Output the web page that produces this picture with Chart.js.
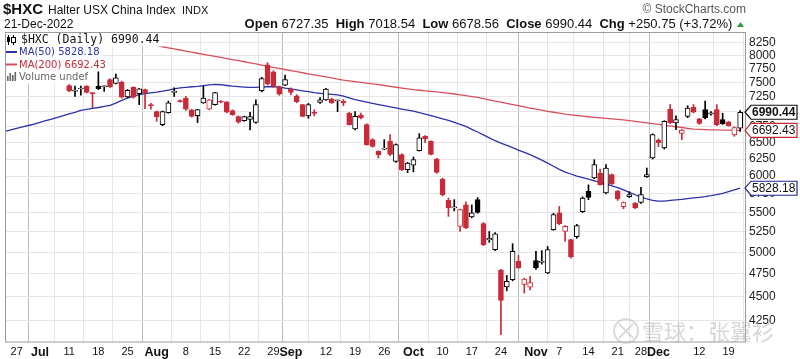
<!DOCTYPE html>
<html>
<head>
<meta charset="utf-8">
<script src="https://cdn.jsdelivr.net/npm/chart.js@4.4.0/dist/chart.umd.min.js"></script>
<style>
  html, body { margin: 0; padding: 0; background: #fff; }
  #wrap { position: relative; width: 800px; height: 359px; }
</style>
</head>
<body>
<div id="wrap"><canvas id="hxcChart" width="800" height="359"></canvas></div>
<script>
// ========== DATA ==========
const dates = [
  'Jun 23','Jun 24','Jun 27','Jun 28','Jun 29','Jun 30',
  'Jul 1','Jul 5','Jul 6','Jul 7','Jul 8','Jul 11','Jul 12','Jul 13','Jul 14','Jul 15',
  'Jul 18','Jul 19','Jul 20','Jul 21','Jul 22','Jul 25','Jul 26','Jul 27','Jul 28','Jul 29',
  'Aug 1','Aug 2','Aug 3','Aug 4','Aug 5','Aug 8','Aug 9','Aug 10','Aug 11','Aug 12',
  'Aug 15','Aug 16','Aug 17','Aug 18','Aug 19','Aug 22','Aug 23','Aug 24','Aug 25','Aug 26',
  'Aug 29','Aug 30','Aug 31','Sep 1','Sep 2','Sep 6','Sep 7','Sep 8','Sep 9',
  'Sep 12','Sep 13','Sep 14','Sep 15','Sep 16','Sep 19','Sep 20','Sep 21','Sep 22','Sep 23',
  'Sep 26','Sep 27','Sep 28','Sep 29','Sep 30','Oct 3','Oct 4','Oct 5','Oct 6','Oct 7',
  'Oct 10','Oct 11','Oct 12','Oct 13','Oct 14','Oct 17','Oct 18','Oct 19','Oct 20','Oct 21',
  'Oct 24','Oct 25','Oct 26','Oct 27','Oct 28','Oct 31','Nov 1','Nov 2','Nov 3','Nov 4',
  'Nov 7','Nov 8','Nov 9','Nov 10','Nov 11','Nov 14','Nov 15','Nov 16','Nov 17','Nov 18',
  'Nov 21','Nov 22','Nov 23','Nov 25','Nov 28','Nov 29','Nov 30','Dec 1','Dec 2',
  'Dec 5','Dec 6','Dec 7','Dec 8','Dec 9','Dec 12','Dec 13','Dec 14','Dec 15','Dec 16',
  'Dec 19','Dec 20','Dec 21'
];

const opens = [
  7650,7750,7850,7800,7700,7680,7720,7800,7830,7700,7700,
  7450,7350,7390,7440,7322,7440,7430,7557,7490,7515,
  7250,7418,7310,7380,7120,7000,6786,6985,7330,7190,
  7230,7030,6935,7150,7040,7118,7180,7166,7020,6920,
  6850,6870,6823,7360,7830,7700,7430,7460,7390,7270,
  7118,6930,6990,7155,7200,7215,7185,7180,6973,
  6715,6940,6786,6546,6365,6400,6520,6215,6316,6093,
  6160,6377,6600,6520,6250,5958,5661,5560,5320,5600,
  5441,5671,5355,5150,5031,4789,4602,4683,4892,4630,4600,
  4903,4880,4759,5278,5494,5257,5153,5190,5510,
  5785,5973,6045,5763,6020,5785,5575,5710,5620,
  5632,5990,6266,6540,6418,7045,6813,6645,6922,7075,
  6880,7033,6960,7033,6870,6830,6620,6727.35
];
const highs = [
  7720,7850,7900,7880,7760,7760,7800,7900,7860,7800,7740,
  7470,7440,7440,7450,7325,7700,7445,7570,7660,7530,
  7380,7430,7400,7390,7140,7010,7010,7180,7412,7200,
  7260,7035,7040,7440,7210,7330,7190,7170,7030,6930,
  6925,6990,7200,7600,7870,7720,7440,7640,7410,7290,
  7125,7140,7030,7240,7400,7230,7195,7205,6990,
  7003,6975,6800,6560,6375,6546,6625,6480,6330,6200,
  6280,6640,6610,6530,6260,5970,5692,5671,5545,5640,
  5600,5700,5370,5255,5240,4800,4730,5104,4962,4700,4720,
  5011,5020,5070,5490,5580,5330,5160,5345,5710,
  5875,6240,6100,6166,6030,5800,5640,5780,5630,
  5840,6117,6640,6560,6850,7118,6930,6710,7100,7120,
  6890,7180,7000,7118,6973,6840,6750,7018.54
];
const lows = [
  7600,7720,7760,7700,7620,7640,7680,7720,7700,7660,7580,
  7340,7260,7280,7320,7067,7380,7348,7420,7480,7230,
  7240,7230,7118,7050,7040,6840,6770,6975,7258,7160,
  7020,6910,6820,7140,7030,7110,7150,6980,6940,6810,
  6840,6700,6810,7340,7460,7420,7280,7450,7290,7150,
  6915,6890,6930,7140,7190,7140,7000,7100,6780,
  6700,6880,6460,6430,6265,6390,6300,6200,6080,6050,
  6060,6370,6500,6310,6040,5720,5449,5520,5257,5290,
  5430,5490,5080,5120,5020,4106,4560,4670,4810,4535,4570,
  4800,4860,4750,5270,5340,5133,4930,5170,5500,
  5670,5960,5870,5750,5880,5660,5550,5700,5550,
  5620,5980,6250,6440,6400,6800,6706,6546,6900,6980,
  6790,6880,6940,6770,6790,6760,6600,6678.56
];
const closes = [
  7700,7830,7790,7720,7650,7700,7760,7850,7730,7780,7620,
  7355,7365,7400,7330,7310,7395,7440,7430,7590,7245,
  7366,7245,7395,7320,7100,6917,7003,7150,7345,7170,
  7040,6920,7035,7233,7200,7325,7160,6990,6950,6825,
  6917,6920,7118,7575,7480,7440,7300,7560,7330,7170,
  6922,7120,6970,7200,7390,7150,7190,7150,6786,
  6922,6900,6470,6440,6316,6405,6320,6468,6093,6190,
  6240,6574,6560,6320,6053,5740,5560,5570,5537,5300,
  5494,5500,5092,5170,5225,4457,4664,5011,4815,4690,4650,
  4815,4890,5031,5471,5355,5320,4944,5330,5692,
  5700,6166,5878,6117,5890,5683,5630,5740,5560,
  5740,6020,6625,6500,6839,6813,6870,6700,7060,6990,
  6805,6895,6980,6786,6800,6770,6739.69,6990.44
];

const ma50 = [
  6678,6700,6725,6748,6772,6796,6823,6850,6878,6905,6932,
  6962,6990,7020,7040,7055,7070,7088,7107,7145,7190,
  7230,7262,7292,7308,7322,7335,7352,7372,7392,7410,
  7420,7430,7438,7450,7462,7472,7466,7452,7440,7432,
  7424,7418,7420,7426,7430,7430,7426,7405,7392,7375,
  7358,7342,7325,7314,7305,7296,7287,7265,7236,
  7206,7185,7162,7140,7120,7102,7082,7062,7043,7025,
  7008,6985,6960,6935,6910,6880,6855,6822,6790,6758,
  6710,6668,6622,6575,6530,6494,6458,6422,6386,6351,6316,
  6275,6234,6190,6143,6098,6058,6030,6000,5978,
  5955,5932,5910,5888,5862,5838,5805,5770,5738,
  5708,5680,5660,5650,5652,5660,5668,5676,5685,5694,
  5702,5712,5725,5740,5758,5780,5805,5828.18
];
const ma200 = [
  8720,8700,8680,8660,8640,8620,8600,8580,8560,8540,8520,
  8500,8480,8460,8440,8420,8400,8380,8360,8340,8320,
  8300,8280,8258,8238,8218,8197,8176,8155,8134,8113,
  8092,8071,8050,8030,8010,7990,7970,7948,7928,7908,
  7888,7868,7848,7825,7803,7783,7763,7743,7723,7702,
  7683,7664,7645,7626,7607,7588,7568,7550,7536,
  7522,7508,7494,7481,7468,7452,7436,7421,7406,7392,
  7378,7368,7358,7348,7338,7328,7316,7302,7288,7274,
  7258,7242,7222,7200,7180,7160,7140,7120,7100,7080,7060,
  7042,7024,7005,6990,6975,6960,6948,6936,6925,
  6915,6905,6897,6889,6881,6873,6865,6852,6840,
  6827,6815,6802,6790,6778,6765,6752,6740,6727,6715,
  6711,6707,6703,6700,6698,6696,6694,6692.43
];

const yTicks = [4250,4500,4750,5000,5250,5500,5750,6000,6250,6500,6750,7000,7250,7500,7750,8000,8250];
const xTickDates = ['Jun 27','Jul 1','Jul 11','Jul 18','Jul 25','Aug 1','Aug 8','Aug 15','Aug 22','Aug 29',
  'Sep 1','Sep 12','Sep 19','Sep 26','Oct 3','Oct 10','Oct 17','Oct 24','Nov 1','Nov 7','Nov 14',
  'Nov 21','Nov 28','Dec 1','Dec 12','Dec 19'];
const xTickText = ['27','Jul','11','18','25','Aug','8','15','22','29',
  'Sep','12','19','26','Oct','10','17','24','Nov','7','14',
  '21','28','Dec','12','19'];
const monthNames = ['Jul','Aug','Sep','Oct','Nov','Dec'];

// ========== COLOURS ==========
const RED = '#c92a38';
const BLUE = '#2b33a6';
const MA_RED = '#d8505c';
const FONT = "'Liberation Sans', Arial, sans-serif";

const candleColor = closes.map((c, i) => {
    const prev = i === 0 ? opens[0] : closes[i - 1];
    return c >= prev ? '#000000' : RED;
});
const bodyFill = closes.map((c, i) => c > opens[i] ? '#ffffff' : candleColor[i]);

// ========== OVERLAY (header, legend, tags) ==========
function drawRuns(c, runs, xRight, yBase) {
    let w = 0;
    runs.forEach(r => { c.font = r.font; w += c.measureText(r.text).width; });
    let x = xRight - w;
    runs.forEach(r => {
        c.font = r.font;
        c.fillStyle = r.color || '#111';
        c.fillText(r.text, x, yBase);
        x += c.measureText(r.text).width;
    });
    return x;
}

function drawTag(c, y, text, border, bold) {
    const x0 = 745, x1 = 751, x2 = 797, h = 7;
    c.beginPath();
    c.moveTo(x0, y);
    c.lineTo(x1, y - h);
    c.lineTo(x2, y - h);
    c.lineTo(x2, y + h);
    c.lineTo(x1, y + h);
    c.closePath();
    c.fillStyle = '#fff';
    c.fill();
    c.lineWidth = 1.2;
    c.strokeStyle = border;
    c.stroke();
    c.font = (bold ? 'bold ' : '') + '12px ' + FONT;
    c.fillStyle = '#111';
    c.textBaseline = 'middle';
    c.fillText(text, 752, y + 0.5);
}

const overlayPlugin = {
    id: 'overlay',
    afterDraw(chart) {
        const c = chart.ctx;
        const a = chart.chartArea;
        const ys = chart.scales.y;
        c.save();

        // frame
        c.strokeStyle = '#9c9c9c';
        c.lineWidth = 1;
        c.strokeRect(a.left + 0.5, a.top + 0.5, a.right - a.left - 1, a.bottom - a.top - 0.5);

        // header
        c.textBaseline = 'alphabetic';
        c.textAlign = 'left';
        c.fillStyle = '#111';
        c.font = 'bold 15px ' + FONT;
        c.fillText('$HXC', 3, 14);
        c.font = '12px ' + FONT;
        c.fillText('Halter USX China Index', 48, 14);
        c.font = '11px ' + FONT;
        c.fillText('INDX', 182, 14);
        c.font = '12px ' + FONT;
        c.fillText('21-Dec-2022', 4, 28);

        c.fillStyle = '#555';
        c.font = '12px ' + FONT;
        c.textAlign = 'right';
        c.fillText('\u00A9 StockCharts.com', 746, 13);
        c.textAlign = 'left';

        const B = 'bold 13px ' + FONT, N = '13px ' + FONT;
        drawRuns(c, [
            { text: 'Open ', font: B }, { text: '6727.35  ', font: N },
            { text: 'High ', font: B }, { text: '7018.54  ', font: N },
            { text: 'Low ', font: B }, { text: '6678.56  ', font: N },
            { text: 'Close ', font: B }, { text: '6990.44  ', font: N },
            { text: 'Chg ', font: B }, { text: '+250.75 (+3.72%) ', font: N }
        ], 736, 28);
        c.fillStyle = '#2e9a3a';
        c.beginPath();
        c.moveTo(737, 27); c.lineTo(744, 27); c.lineTo(740.5, 22); c.closePath();
        c.fill();

        // legend block (white behind each line)
        c.fillStyle = '#fff';
        c.fillRect(a.left + 1, 33, 157, 13.5);
        c.fillRect(a.left + 1, 46, 97, 12.5);
        c.fillRect(a.left + 1, 58.5, 103, 12.5);
        c.fillRect(a.left + 1, 71, 90, 12.5);

        // candle icon
        c.fillStyle = '#000';
        c.fillRect(8, 35, 1, 10); c.fillRect(7, 37, 3, 5);
        c.fillRect(13, 35, 1, 10);
        c.strokeStyle = '#000'; c.lineWidth = 1;
        c.fillStyle = '#fff'; c.fillRect(11.5, 37.5, 4, 5); c.strokeRect(11.5, 37.5, 4, 5);

        c.textBaseline = 'middle';
        c.fillStyle = '#111';
        c.font = "11.5px 'DejaVu Sans Mono', monospace";
        c.fillText('$HXC (Daily) 6990.44', 21, 40.5);

        c.lineWidth = 2;
        c.strokeStyle = BLUE;
        c.beginPath(); c.moveTo(6, 52); c.lineTo(17, 52); c.stroke();
        c.fillStyle = BLUE;
        c.font = "10px 'DejaVu Sans', sans-serif";
        c.fillText('MA(50) 5828.18', 19, 52.5);

        c.strokeStyle = MA_RED;
        c.beginPath(); c.moveTo(6, 64.5); c.lineTo(17, 64.5); c.stroke();
        c.fillStyle = RED;
        c.fillText('MA(200) 6692.43', 19, 65);

        c.fillStyle = '#666';
        [[7, 5], [9.5, 8], [12, 6], [14.5, 9]].forEach(([bx, bh]) => c.fillRect(bx, 81 - bh, 1.6, bh));
        c.fillText('Volume undef', 19, 77.5);

        // right-side value tags
        drawTag(c, ys.getPixelForValue(6990.44), '6990.44', '#111', true);
        drawTag(c, ys.getPixelForValue(6692.43), '6692.43', RED, false);
        drawTag(c, ys.getPixelForValue(5828.18), '5828.18', '#1c2690', false);

        // watermark
        c.globalAlpha = 0.5;
        c.strokeStyle = '#b8b8b8';
        c.lineWidth = 2;
        c.beginPath(); c.arc(626, 331, 12, 0, Math.PI * 2); c.stroke();
        c.beginPath(); c.moveTo(619, 324); c.lineTo(633, 338); c.moveTo(633, 324); c.lineTo(619, 338); c.stroke();
        c.fillStyle = '#b0b0b0';
        c.font = "22px 'Noto Sans CJK SC', sans-serif";
        c.textBaseline = 'middle';
        c.fillText('\u96EA\u7403\uFF1A\u5F20\u7FFC\u886B', 642, 332);
        c.restore();
    }
};

// ========== CHART ==========
const ctx = document.getElementById('hxcChart').getContext('2d');
new Chart(ctx, {
    type: 'bar',
    data: {
        labels: dates.concat(['']),
        datasets: [
            {
                label: 'body',
                order: 1,
                data: dates.map((d, i) => [Math.min(opens[i], closes[i]), Math.max(opens[i], closes[i])]),
                backgroundColor: bodyFill,
                borderColor: candleColor,
                borderWidth: 1,
                borderSkipped: false,
                barThickness: 5,
                minBarLength: 1,
                grouped: false
            },
            {
                label: 'wick',
                order: 2,
                data: dates.map((d, i) => [lows[i], highs[i]]),
                backgroundColor: candleColor,
                borderWidth: 0,
                barThickness: 1,
                grouped: false
            },
            {
                type: 'line',
                label: 'MA(200)',
                order: 3,
                data: ma200,
                borderColor: MA_RED,
                borderWidth: 1.3,
                pointRadius: 0,
                tension: 0
            },
            {
                type: 'line',
                label: 'MA(50)',
                order: 4,
                data: ma50,
                borderColor: BLUE,
                borderWidth: 1.3,
                pointRadius: 0,
                tension: 0
            }
        ]
    },
    options: {
        responsive: false,
        animation: false,
        devicePixelRatio: 1,
        layout: { padding: { left: 5, top: 32, right: 0, bottom: 0 } },
        plugins: { legend: { display: false }, tooltip: { enabled: false } },
        scales: {
            x: {
                type: 'category',
                offset: false,
                border: { display: false },
                grid: {
                    drawTicks: false,
                    color: c => (c.tick && monthNames.includes(c.tick.label)) ? '#bdbdbd' : '#e6e6e6'
                },
                ticks: {
                    autoSkip: false,
                    maxRotation: 0,
                    padding: 3,
                    color: '#111',
                    callback: function (val) {
                        const k = xTickDates.indexOf(this.getLabelForValue(val));
                        return k < 0 ? null : xTickText[k];
                    },
                    font: c => (c.tick && monthNames.includes(c.tick.label))
                        ? { family: FONT, size: 12.5, weight: 'bold' }
                        : { family: FONT, size: 11 }
                },
                afterFit: s => { s.height = 17; }
            },
            y: {
                type: 'logarithmic',
                position: 'right',
                min: 4034,
                max: 8470,
                border: { display: false },
                grid: { drawTicks: false, color: '#e6e6e6' },
                afterBuildTicks: s => { s.ticks = yTicks.map(v => ({ value: v })); },
                ticks: {
                    autoSkip: false,
                    padding: 3,
                    color: '#222',
                    font: { family: FONT, size: 12 },
                    callback: v => String(v)
                },
                afterFit: s => { s.width = 54; }
            }
        }
    },
    plugins: [overlayPlugin]
});
</script>
</body>
</html>
